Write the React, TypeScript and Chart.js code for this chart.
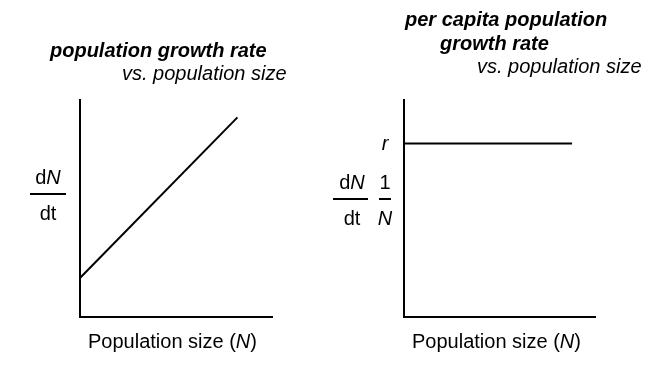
import React, { useEffect, useRef } from "react";
import { Chart, registerables } from "chart.js";

Chart.register(...registerables);

// ---- data ----
const axisRange = [0, 10];
const growthN = [0, 8.2];
const growthRate = [1.8, 9.2];
const perCapitaN = [0, 8.8];
const perCapitaRate = [8, 8];

const leftTitle = ["population growth rate", "vs. population size"];
const rightTitle = ["per capita population", "growth rate", "vs. population size"];
const xLabel = ["Population size (", "N", ")"];
const rLabel = "r";

const FONT = "'Liberation Sans', Arial, sans-serif";

type Run = { t: string; style?: string };

function drawRuns(ctx: CanvasRenderingContext2D, runs: Run[], x: number, y: number, size: number, align: "left" | "center" = "left") {
  ctx.save();
  ctx.fillStyle = "#000";
  ctx.textBaseline = "alphabetic";
  ctx.textAlign = "left";
  let total = 0;
  const widths = runs.map((r) => {
    ctx.font = `${r.style || ""} ${size}px ${FONT}`;
    const w = ctx.measureText(r.t).width;
    total += w;
    return w;
  });
  let cx = align === "center" ? x - total / 2 : x;
  runs.forEach((r, i) => {
    ctx.font = `${r.style || ""} ${size}px ${FONT}`;
    ctx.fillText(r.t, cx, y);
    cx += widths[i];
  });
  ctx.restore();
}

function hline(ctx: CanvasRenderingContext2D, x1: number, x2: number, y: number, w = 2) {
  ctx.save();
  ctx.strokeStyle = "#000";
  ctx.lineWidth = w;
  ctx.beginPath();
  ctx.moveTo(x1, y);
  ctx.lineTo(x2, y);
  ctx.stroke();
  ctx.restore();
}

const leftText = {
  id: "leftText",
  afterDraw(chart: any) {
    const ctx = chart.ctx;
    drawRuns(ctx, [{ t: leftTitle[0], style: "italic bold" }], 50, 57, 20);
    drawRuns(ctx, [{ t: leftTitle[1], style: "italic" }], 122, 80, 20);
    drawRuns(ctx, [{ t: "d" }, { t: "N", style: "italic" }], 48, 184, 20, "center");
    hline(ctx, 30, 66, 194);
    drawRuns(ctx, [{ t: "dt" }], 48, 220, 20, "center");
    drawRuns(ctx, [{ t: xLabel[0] }, { t: xLabel[1], style: "italic" }, { t: xLabel[2] }], 88, 348, 20);
  },
};

const rightText = {
  id: "rightText",
  afterDraw(chart: any) {
    const ctx = chart.ctx;
    drawRuns(ctx, [{ t: rightTitle[0], style: "italic bold" }], 80, 26, 20);
    drawRuns(ctx, [{ t: rightTitle[1], style: "italic bold" }], 115, 50, 20);
    drawRuns(ctx, [{ t: rightTitle[2], style: "italic" }], 152, 73, 20);
    const y = chart.scales.y.getPixelForValue(perCapitaRate[0]);
    drawRuns(ctx, [{ t: rLabel, style: "italic" }], 60, y + 7, 20, "center");
    drawRuns(ctx, [{ t: "d" }, { t: "N", style: "italic" }], 27, 189, 20, "center");
    hline(ctx, 8, 43, 199);
    drawRuns(ctx, [{ t: "dt" }], 27, 225, 20, "center");
    drawRuns(ctx, [{ t: "1" }], 60, 189, 20, "center");
    hline(ctx, 54, 66, 199);
    drawRuns(ctx, [{ t: "N", style: "italic" }], 60, 225, 20, "center");
    drawRuns(ctx, [{ t: xLabel[0] }, { t: xLabel[1], style: "italic" }, { t: xLabel[2] }], 87, 348, 20);
  },
};

function makeConfig(xs: number[], ys: number[], padding: any, plugin: any): any {
  const axis = (pos: string) => ({
    type: "linear",
    position: pos,
    min: axisRange[0],
    max: axisRange[1],
    grid: { display: false, drawTicks: false },
    ticks: { display: false },
    border: { display: true, color: "#000", width: 2 },
  });
  return {
    type: "line",
    data: {
      datasets: [
        {
          data: xs.map((x, i) => ({ x, y: ys[i] })),
          borderColor: "#000",
          borderWidth: 2,
          pointRadius: 0,
          fill: false,
          tension: 0,
        },
      ],
    },
    options: {
      animation: false,
      responsive: false,
      layout: { padding },
      plugins: { legend: { display: false }, tooltip: { enabled: false } },
      scales: { x: axis("bottom"), y: axis("left") },
    },
    plugins: [plugin],
  };
}

export default function App() {
  const leftRef = useRef<HTMLCanvasElement>(null);
  const rightRef = useRef<HTMLCanvasElement>(null);
  useEffect(() => {
    const c1 = new Chart(leftRef.current!, makeConfig(growthN, growthRate, { left: 80, right: 53, top: 100, bottom: 51 }, leftText));
    const c2 = new Chart(rightRef.current!, makeConfig(perCapitaN, perCapitaRate, { left: 79, right: 55, top: 100, bottom: 51 }, rightText));
    return () => {
      c1.destroy();
      c2.destroy();
    };
  }, []);
  return (
    <div style={{ position: "fixed", left: 0, top: 0, width: 650, height: 368, background: "#fff" }}>
      <canvas ref={leftRef} width={325} height={368} style={{ position: "absolute", left: 0, top: 0, width: 325, height: 368 }} />
      <canvas ref={rightRef} width={325} height={368} style={{ position: "absolute", left: 325, top: 0, width: 325, height: 368 }} />
    </div>
  );
}
